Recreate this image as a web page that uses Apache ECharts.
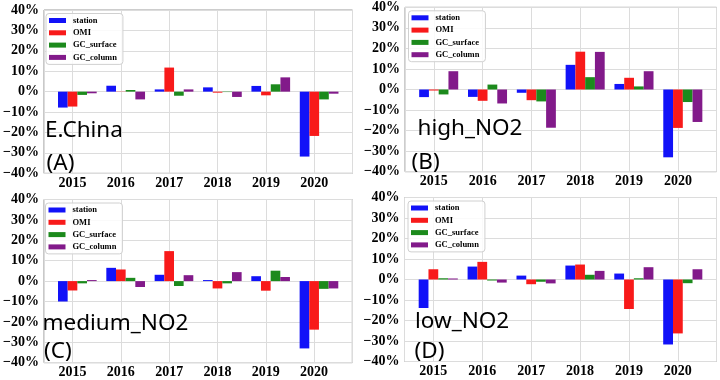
<!DOCTYPE html>
<html><head><meta charset="utf-8">
<script src="https://cdn.jsdelivr.net/npm/echarts@6/dist/echarts.min.js"></script>
<style>html,body{margin:0;padding:0;background:#fff}#c{width:720px;height:380px}</style>
</head><body><div id="c"></div>
<script>
// ---------- data ----------
const years = ['2015', '2016', '2017', '2018', '2019', '2020'];
const seriesNames = ['station', 'OMI', 'GC_surface', 'GC_column'];
const panelNames = ['E.China', 'high_NO2', 'medium_NO2', 'low_NO2'];
const panelTags = ['(A)', '(B)', '(C)', '(D)'];

const eChinaStation   = [-7.8, 2.9, 1.1, 2.1, 2.8, -31.8];
const eChinaOMI       = [-7.3, 0.1, 11.8, -0.5, -1.8, -21.7];
const eChinaGCsurface = [-1.6, 0.8, -2.0, -0.2, 3.6, -3.8];
const eChinaGCcolumn  = [-0.8, -3.8, 1.1, -2.6, 7.0, -1.0];

const highStation   = [-3.7, -3.6, -1.6, 12.0, 2.7, -33.0];
const highOMI       = [-0.5, -5.5, -5.2, 18.4, 5.7, -18.7];
const highGCsurface = [-2.4, 2.4, -5.8, 6.0, 1.5, -6.1];
const highGCcolumn  = [8.9, -6.8, -18.6, 18.3, 8.9, -15.8];

const mediumStation   = [-10.0, 6.5, 3.1, 0.5, 2.4, -33.0];
const mediumOMI       = [-4.6, 5.7, 14.7, -3.6, -4.7, -23.8];
const mediumGCsurface = [-1.1, 1.6, -2.4, -1.1, 5.1, -3.8];
const mediumGCcolumn  = [0.5, -2.9, 2.9, 4.4, 2.0, -3.6];

const lowStation   = [-13.9, 6.3, 1.9, 6.8, 2.9, -31.7];
const lowOMI       = [5.0, 8.6, -2.3, 7.3, -14.4, -26.3];
const lowGCsurface = [0.6, -0.5, -1.1, 2.3, 0.6, -1.8];
const lowGCcolumn  = [0.5, -1.5, -1.9, 4.2, 6.0, 5.0];

const panelData = [
  [eChinaStation, eChinaOMI, eChinaGCsurface, eChinaGCcolumn],
  [highStation, highOMI, highGCsurface, highGCcolumn],
  [mediumStation, mediumOMI, mediumGCsurface, mediumGCcolumn],
  [lowStation, lowOMI, lowGCsurface, lowGCcolumn]
];

// ---------- style / layout ----------
const colors = ['#1212f8', '#f81a1a', '#1c8a1c', '#821a8a'];
const grids = [
  {left: 42.5, top: 10,    width: 310,   height: 163.3},
  {left: 405,  top: 7.3,   width: 311.5, height: 164.4},
  {left: 42,   top: 199.5, width: 310.3, height: 163.2},
  {left: 404.5,top: 197.5, width: 312,   height: 164}
];
// label positions: [x, baseline] for name line and tag line
const labelPos = [
  [[45, 136.7], [46.5, 170]],
  [[417.5, 135], [411.5, 169]],
  [[42.5, 330], [44, 358]],
  [[415, 328.3], [414.5, 358.3]]
];
const serifFont = 'Liberation Serif';
const groupShift = 0.1;

const option = {
  animation: false,
  backgroundColor: '#fff',
  grid: grids.map(g => ({...g, show: true, borderColor: '#9a9a9a', borderWidth: 1, backgroundColor: 'transparent'})),
  xAxis: grids.map((g, p) => ({
    type: 'value', gridIndex: p, min: -0.59, max: 5.79,
    splitNumber: 6, minInterval: 1, maxInterval: 1,
    axisLine: {show: false}, axisTick: {show: false},
    splitLine: {show: true, lineStyle: {color: '#dcdcdc', width: 1}},
    axisLabel: {
      color: '#000', fontFamily: serifFont, fontWeight: 'bold', fontSize: 14, margin: 3,
      showMinLabel: false, showMaxLabel: false,
      formatter: v => (Math.abs(v - Math.round(v)) < 1e-6 && Math.round(v) >= 0 && Math.round(v) < years.length) ? years[Math.round(v)] : ''
    }
  })),
  yAxis: grids.map((g, p) => ({
    type: 'value', gridIndex: p, min: -40, max: 40, interval: 10,
    axisLine: {show: false}, axisTick: {show: false},
    splitLine: {show: true, lineStyle: {color: '#dcdcdc', width: 1}},
    axisLabel: {color: '#000', fontFamily: serifFont, fontWeight: 'bold', fontSize: 14, margin: 5,
      formatter: v => (v < 0 ? '\u2212' : '') + Math.abs(v) + '%'}
  })),
  legend: grids.map((g, p) => ({
    orient: 'vertical', left: g.left + 3.5, top: g.top + 3.5,
    data: seriesNames, icon: 'rect', itemWidth: 17, itemHeight: 5, itemGap: 0.3,
    padding: [1, 6, 1, 3], borderColor: '#d0d0d0', borderWidth: 1, borderRadius: 3,
    backgroundColor: 'rgba(255,255,255,0.85)', selectedMode: false,
    textStyle: {fontFamily: serifFont, fontWeight: 'bold', fontSize: 8.5, lineHeight: 12, color: '#000', padding: [0, 0, 0, 2]}
  })),
  series: [],
  graphic: []
};

panelData.forEach((arrs, p) => {
  arrs.forEach((vals, s) => {
    option.series.push({
      type: 'bar', name: seriesNames[s], xAxisIndex: p, yAxisIndex: p,
      barWidth: '20%', barGap: '0%',
      itemStyle: {color: colors[s]},
      data: vals.map((v, i) => [i + groupShift, v])
    });
  });
  const lp = labelPos[p];
  [panelNames[p], panelTags[p]].forEach((txt, k) => {
    option.graphic.push({
      type: 'text', x: lp[k][0], y: lp[k][1] - 6.5, z: 100,
      style: {text: txt, fill: '#000', fontSize: 22.5, fontFamily: 'Noto Sans', verticalAlign: 'middle', align: 'left'}
    });
  });
});

const chart = echarts.init(document.getElementById('c'), null, {renderer: 'canvas'});
chart.setOption(option);
</script>
</body></html>
